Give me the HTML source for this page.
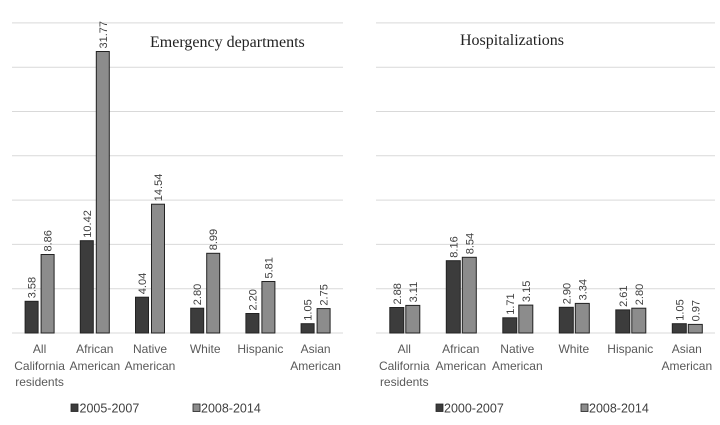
<!DOCTYPE html>
<html>
<head>
<meta charset="utf-8">
<style>
html,body{margin:0;padding:0;background:#fff;}
svg{display:block;}
.v{font-family:"Liberation Sans",sans-serif;font-size:11px;fill:#404040;}
.c{font-family:"Liberation Sans",sans-serif;font-size:12px;fill:#595959;text-anchor:middle;}
.l{font-family:"Liberation Sans",sans-serif;font-size:12.5px;fill:#404040;}
.t{font-family:"Liberation Serif",serif;font-size:16px;fill:#222;}
</style>
</head>
<body>
<svg width="720" height="425" viewBox="0 0 720 425" xmlns="http://www.w3.org/2000/svg">
<rect width="720" height="425" fill="#fff"/>
<!-- Left gridlines -->
<g stroke="#d9d9d9" stroke-width="1">
<line x1="12" y1="22.9" x2="343" y2="22.9"/>
<line x1="12" y1="67.2" x2="343" y2="67.2"/>
<line x1="12" y1="111.5" x2="343" y2="111.5"/>
<line x1="12" y1="155.8" x2="343" y2="155.8"/>
<line x1="12" y1="200.1" x2="343" y2="200.1"/>
<line x1="12" y1="244.4" x2="343" y2="244.4"/>
<line x1="12" y1="288.7" x2="343" y2="288.7"/>
<line x1="12" y1="333" x2="343" y2="333"/>
<line x1="376" y1="22.9" x2="715" y2="22.9"/>
<line x1="376" y1="67.2" x2="715" y2="67.2"/>
<line x1="376" y1="111.5" x2="715" y2="111.5"/>
<line x1="376" y1="155.8" x2="715" y2="155.8"/>
<line x1="376" y1="200.1" x2="715" y2="200.1"/>
<line x1="376" y1="244.4" x2="715" y2="244.4"/>
<line x1="376" y1="288.7" x2="715" y2="288.7"/>
<line x1="376" y1="333" x2="715" y2="333"/>
</g>

<text class="t" x="150" y="47">Emergency departments</text>
<text class="t" x="460" y="45">Hospitalizations</text>

<!-- Left bars -->
<g stroke="#222" stroke-width="1">
<rect x="25.1" y="301.3" width="13" height="31.7" fill="#3c3c3c"/>
<rect x="41.1" y="254.5" width="13" height="78.5" fill="#8c8c8c"/>
<rect x="80.3" y="240.7" width="13" height="92.3" fill="#3c3c3c"/>
<rect x="96.3" y="51.5" width="13" height="281.5" fill="#8c8c8c"/>
<rect x="135.5" y="297.2" width="13" height="35.8" fill="#3c3c3c"/>
<rect x="151.5" y="204.2" width="13" height="128.8" fill="#8c8c8c"/>
<rect x="190.7" y="308.2" width="13" height="24.8" fill="#3c3c3c"/>
<rect x="206.7" y="253.3" width="13" height="79.7" fill="#8c8c8c"/>
<rect x="245.9" y="313.5" width="13" height="19.5" fill="#3c3c3c"/>
<rect x="261.9" y="281.5" width="13" height="51.5" fill="#8c8c8c"/>
<rect x="301.1" y="323.7" width="13" height="9.3" fill="#3c3c3c"/>
<rect x="317.1" y="308.6" width="13" height="24.4" fill="#8c8c8c"/>
</g>
<!-- Right bars -->
<g stroke="#222" stroke-width="1">
<rect x="389.8" y="307.5" width="14" height="25.5" fill="#3c3c3c"/>
<rect x="405.8" y="305.4" width="14" height="27.6" fill="#8c8c8c"/>
<rect x="446.3" y="260.7" width="14" height="72.3" fill="#3c3c3c"/>
<rect x="462.3" y="257.3" width="14" height="75.7" fill="#8c8c8c"/>
<rect x="502.8" y="317.8" width="14" height="15.2" fill="#3c3c3c"/>
<rect x="518.8" y="305.1" width="14" height="27.9" fill="#8c8c8c"/>
<rect x="559.3" y="307.3" width="14" height="25.7" fill="#3c3c3c"/>
<rect x="575.3" y="303.4" width="14" height="29.6" fill="#8c8c8c"/>
<rect x="615.8" y="309.9" width="14" height="23.1" fill="#3c3c3c"/>
<rect x="631.8" y="308.2" width="14" height="24.8" fill="#8c8c8c"/>
<rect x="672.3" y="323.7" width="14" height="9.3" fill="#3c3c3c"/>
<rect x="688.3" y="324.4" width="14" height="8.6" fill="#8c8c8c"/>
</g>

<!-- Left value labels -->
<g class="v">
<text transform="translate(35.6,298.3) rotate(-90)">3.58</text>
<text transform="translate(51.6,251.5) rotate(-90)">8.86</text>
<text transform="translate(90.8,237.7) rotate(-90)">10.42</text>
<text transform="translate(106.8,48.5) rotate(-90)">31.77</text>
<text transform="translate(146,294.2) rotate(-90)">4.04</text>
<text transform="translate(162,201.2) rotate(-90)">14.54</text>
<text transform="translate(201.2,305.2) rotate(-90)">2.80</text>
<text transform="translate(217.2,250.3) rotate(-90)">8.99</text>
<text transform="translate(256.4,310.5) rotate(-90)">2.20</text>
<text transform="translate(272.4,278.5) rotate(-90)">5.81</text>
<text transform="translate(311.6,320.7) rotate(-90)">1.05</text>
<text transform="translate(327.6,305.6) rotate(-90)">2.75</text>
</g>
<!-- Right value labels -->
<g class="v">
<text transform="translate(400.8,304.5) rotate(-90)">2.88</text>
<text transform="translate(416.8,302.4) rotate(-90)">3.11</text>
<text transform="translate(457.3,257.7) rotate(-90)">8.16</text>
<text transform="translate(473.3,254.3) rotate(-90)">8.54</text>
<text transform="translate(513.8,314.8) rotate(-90)">1.71</text>
<text transform="translate(529.8,302.1) rotate(-90)">3.15</text>
<text transform="translate(570.3,304.3) rotate(-90)">2.90</text>
<text transform="translate(586.3,300.4) rotate(-90)">3.34</text>
<text transform="translate(626.8,306.9) rotate(-90)">2.61</text>
<text transform="translate(642.8,305.2) rotate(-90)">2.80</text>
<text transform="translate(683.3,320.7) rotate(-90)">1.05</text>
<text transform="translate(699.3,321.4) rotate(-90)">0.97</text>
</g>

<!-- Left category labels -->
<g class="c">
<text x="39.6" y="353">All</text>
<text x="39.6" y="370">California</text>
<text x="39.6" y="386">residents</text>
<text x="94.8" y="353">African</text>
<text x="94.8" y="370">American</text>
<text x="150" y="353">Native</text>
<text x="150" y="370">American</text>
<text x="205.2" y="353">White</text>
<text x="260.4" y="353">Hispanic</text>
<text x="315.6" y="353">Asian</text>
<text x="315.6" y="370">American</text>
</g>
<!-- Right category labels -->
<g class="c">
<text x="404.3" y="353">All</text>
<text x="404.3" y="370">California</text>
<text x="404.3" y="386">residents</text>
<text x="460.8" y="353">African</text>
<text x="460.8" y="370">American</text>
<text x="517.3" y="353">Native</text>
<text x="517.3" y="370">American</text>
<text x="573.8" y="353">White</text>
<text x="630.3" y="353">Hispanic</text>
<text x="686.8" y="353">Asian</text>
<text x="686.8" y="370">American</text>
</g>

<!-- Legends -->
<g stroke="#222" stroke-width="0.8">
<rect x="71" y="404" width="7" height="7.5" fill="#3c3c3c"/>
<rect x="193" y="404" width="7" height="7.5" fill="#8c8c8c"/>
<rect x="436" y="404" width="7" height="7.5" fill="#3c3c3c"/>
<rect x="581" y="404" width="7" height="7.5" fill="#8c8c8c"/>
</g>
<g class="l">
<text x="79.5" y="412.5">2005-2007</text>
<text x="201" y="412.5">2008-2014</text>
<text x="444" y="412.5">2000-2007</text>
<text x="589" y="412.5">2008-2014</text>
</g>
</svg>
</body>
</html>
